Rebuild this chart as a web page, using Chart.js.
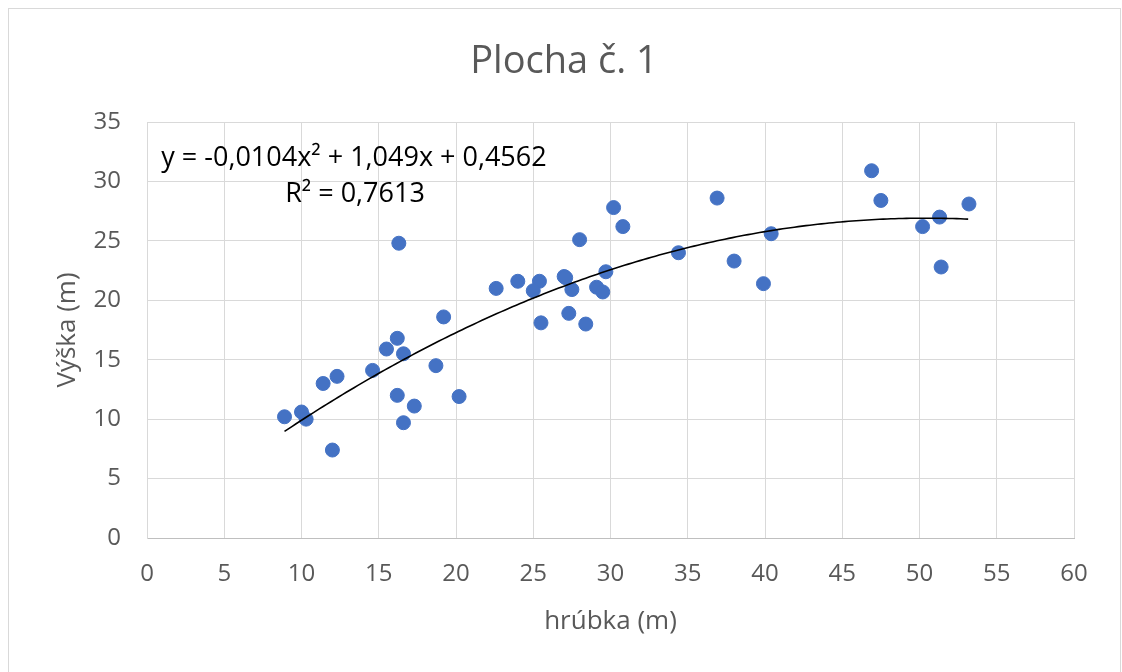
<!DOCTYPE html>
<html>
<head>
<meta charset="utf-8">
<script src="https://cdn.jsdelivr.net/npm/chart.js@4.4.0/dist/chart.umd.min.js"></script>
<style>
  html, body { margin: 0; padding: 0; background: #fff; }
  #wrap { width: 1122px; height: 672px; position: relative; }
</style>
</head>
<body>
<div id="wrap"><canvas id="chart" width="1122" height="672"></canvas></div>
<script>
// hrúbka (x) and výška (y)
const hrubka = [8.9, 10.0, 10.3, 11.4, 12.3, 12.0, 14.6, 15.5, 16.2, 16.6, 16.3, 16.2, 16.6, 17.3,
  18.7, 19.2, 20.2, 22.6, 24.0, 25.4, 25.0, 25.5, 27.0, 27.1, 27.5, 27.3, 28.0, 28.4, 29.1, 29.5,
  29.7, 30.2, 30.8, 34.4, 36.9, 38.0, 39.9, 40.4, 46.9, 47.5, 50.2, 51.3, 53.2, 51.4];
const vyska = [10.2, 10.6, 10.0, 13.0, 13.6, 7.4, 14.1, 15.9, 16.8, 15.5, 24.8, 12.0, 9.7, 11.1,
  14.5, 18.6, 11.9, 21.0, 21.6, 21.6, 20.8, 18.1, 22.0, 21.9, 20.9, 18.9, 25.1, 18.0, 21.1, 20.7,
  22.4, 27.8, 26.2, 24.0, 28.6, 23.3, 21.4, 25.6, 30.9, 28.4, 26.2, 27.0, 28.1, 22.8];
const xTicks = [0, 5, 10, 15, 20, 25, 30, 35, 40, 45, 50, 55, 60];
const yTicks = [0, 5, 10, 15, 20, 25, 30, 35];
// polynomial trendline from the chart: a*x^2 + b*x + c
const trendCoef = [-0.0104, 1.049, 0.4562];
const equationText = ["y = -0,0104x\u00b2 + 1,049x + 0,4562", "R\u00b2 = 0,7613"];

const points = hrubka.map(function (x, i) { return { x: x, y: vyska[i] }; });
const xMin = Math.min.apply(null, hrubka), xMax = Math.max.apply(null, hrubka);
const trend = [];
for (let x = xMin; x <= xMax + 1e-9; x += 0.25) {
  trend.push({ x: x, y: trendCoef[0] * x * x + trendCoef[1] * x + trendCoef[2] });
}

const FONT = "'Open Sans', 'Noto Sans', sans-serif";
const GRAY = "#595959";

const decorations = {
  id: "decorations",
  beforeDraw: function (chart) {
    const c = chart.ctx;
    c.save();
    c.strokeStyle = "#d9d9d9";
    c.lineWidth = 1;
    c.strokeRect(8.5, 8.5, 1112, 700);
    c.restore();
  },
  afterDraw: function (chart) {
    const c = chart.ctx;
    c.save();
    c.fillStyle = GRAY;
    c.font = "38px " + FONT;
    c.textAlign = "center";
    c.textBaseline = "alphabetic";
    c.fillText("Plocha č. 1", 564, 73);
    c.fillStyle = "#000";
    c.font = "27px " + FONT;
    c.fillText(equationText[0], 354, 166);
    c.fillText(equationText[1], 355, 202);
    c.restore();
  }
};

new Chart(document.getElementById("chart"), {
  type: "scatter",
  data: {
    datasets: [
      {
        label: "Výška",
        data: points,
        backgroundColor: "#4472C4",
        borderColor: "#4472C4",
        pointRadius: 7,
        borderWidth: 1,
        order: 2
      },
      {
        label: "Trend",
        data: trend,
        showLine: true,
        borderColor: "#000",
        borderWidth: 1.6,
        pointRadius: 0,
        fill: false,
        order: 1
      }
    ]
  },
  options: {
    responsive: false,
    animation: false,
    layout: { padding: { left: 52, top: 122, right: 48, bottom: 31 } },
    plugins: { legend: { display: false }, tooltip: { enabled: false } },
    scales: {
      x: {
        type: "linear",
        min: 0, max: 60,
        afterBuildTicks: function (s) { s.ticks = xTicks.map(function (v) { return { value: v }; }); },
        afterFit: function (s) { s.height = 672 - 31 - 538; },
        grid: { color: "#d9d9d9", drawTicks: false },
        border: { color: "#bfbfbf" },
        ticks: { color: GRAY, font: { family: FONT, size: 24 }, padding: 22, maxRotation: 0 },
        title: { display: true, text: "hrúbka (m)", color: GRAY, font: { family: FONT, size: 26 }, padding: { top: 4, bottom: 4 } }
      },
      y: {
        type: "linear",
        min: 0, max: 35,
        afterBuildTicks: function (s) { s.ticks = yTicks.map(function (v) { return { value: v }; }); },
        afterFit: function (s) { s.width = 147 - 52; },
        grid: { color: "#d9d9d9", drawTicks: false },
        border: { color: "#d9d9d9" },
        ticks: { color: GRAY, font: { family: FONT, size: 24 }, padding: 26 },
        title: { display: true, text: "Výška (m)", color: GRAY, font: { family: FONT, size: 26 }, padding: 0 }
      }
    }
  },
  plugins: [decorations]
});
</script>
</body>
</html>
